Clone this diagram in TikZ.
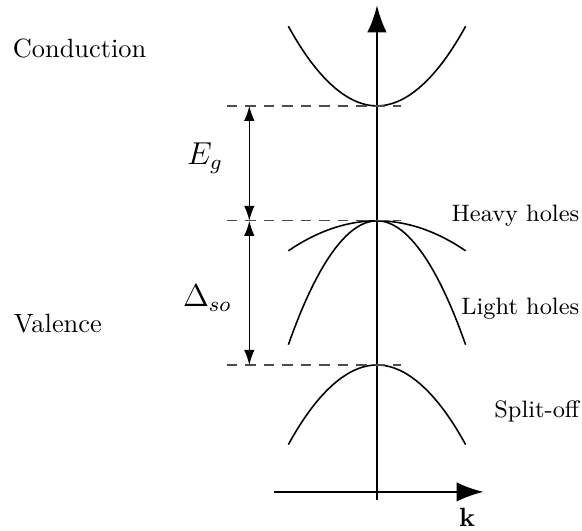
\documentclass[tikz,border=0pt]{standalone}
\usepackage{amsmath}
\usepackage{tikz}
\usetikzlibrary{arrows.meta,positioning}

\begin{document}
\begin{tikzpicture}[
    axis/.style={-{Latex[length=3.6mm,width=2.6mm]}, line width=0.9pt},
    band/.style={line width=0.6pt},
    level/.style={dashed, dash pattern=on 4pt off 3pt, black!70, line width=0.5pt},
    gap/.style={{Latex[length=2mm,width=1.4mm]}-{Latex[length=2mm,width=1.4mm]}, line width=0.5pt},
    lbl/.style={font=\normalsize},
    rlbl/.style={font=\small, anchor=base east, inner sep=0pt},
    sym/.style={font=\fontsize{11.5}{13}\selectfont}
]
\useasboundingbox (-5.02,-0.52) rectangle (2.73,6.55);

% band edges
\coordinate (cb) at (0,5.14);
\coordinate (vb) at (0,3.61);
\coordinate (so) at (0,1.69);

% axes
\coordinate (kl) at (-1.37,0);
\coordinate (kr) at (1.42,0);
\coordinate (eb) at (0,-0.11);
\coordinate (et) at (0,6.48);
\draw[axis] (kl) -- (kr);
\draw[axis] (eb) -- (et);
\node (k) at (1.20,-0.34) {$\mathbf{k}$};

% bands
\draw[band] (-1.18,6.20) parabola bend (cb) (1.18,6.20);
\draw[band] (-1.18,3.21) parabola bend (vb) (1.18,3.21);
\draw[band] (-1.18,1.96) parabola bend (vb) (1.18,1.96);
\draw[band] (-1.18,0.63) parabola bend (so) (1.18,0.63);

% levels
\draw[level] (-2.0,5.14) -- (0.32,5.14);
\draw[level] (-2.0,3.61) -- (0.32,3.61);
\draw[level] (-2.0,1.69) -- (0.32,1.69);

% gaps
\coordinate (g1) at (-1.70,5.14);
\coordinate (g2) at (-1.70,3.61);
\coordinate (g3) at (-1.70,1.69);
\draw[gap] (g1) -- (g2);
\draw[gap] (g2) -- (g3);
\node[sym] (eg)  at (-2.29,4.44) {$E_g$};
\node[sym] (dso) at (-2.26,2.58) {$\Delta_{so}$};

% labels
\node[lbl] (cond) at (-3.96,5.90) {Conduction};
\node[lbl] (val)  at (-4.25,2.24) {Valence};
\node[rlbl] (hh)   at (2.70,3.60) {Heavy holes};
\node[rlbl] (lh)   at (2.70,2.36) {Light holes};
\node[rlbl] (soff) at (2.70,0.985) {Split-off};
\end{tikzpicture}
\end{document}
